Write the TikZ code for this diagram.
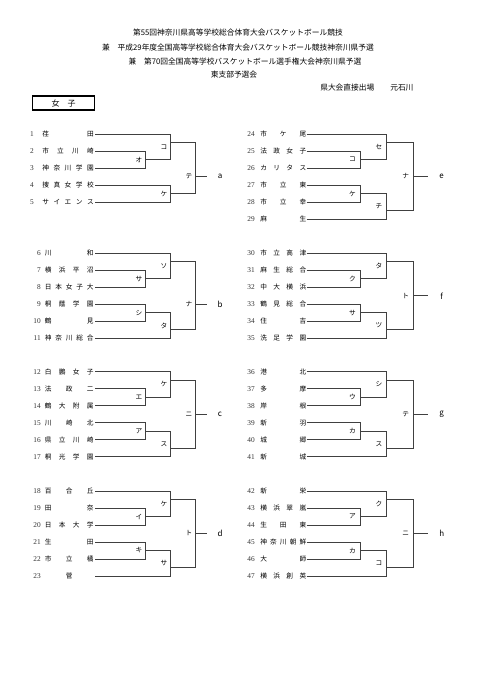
\documentclass[tikz,border=0pt]{standalone}
\usepackage{fontspec}
\setmainfont{Noto Sans CJK JP}
\newfontfamily\numfont{Liberation Serif}
\usetikzlibrary{positioning}

% match point: name, x of the bracket, y of its output, y of its tag, tag
\newcommand{\bout}[5]{%
  \coordinate (#1) at (#2,#3);
  \node[code] (#1l) at (#2-\lgap,#4) {#5};}

% one column of teams: key, number x, name x, name width, line x, first row y, list
\newcommand{\teamcol}[7]{%
  \foreach \no/\nm [count=\row] in {#7}{
    \node[num] (n\no) at (#2,#6+17*\row-17) {\no};
    \node[team] (s\no) at (#3,#6+17*\row-17) {\makebox[#4][s]{\nm}};
    \coordinate (#1\row) at (#5,#6+17*\row-17);
  }}

% six teams: key, first row y, four tags, final tag, final offset
\newcommand{\sixblock}[8]{%
  \bout{#1A}{\vA}{#2+25.5}{#2+25.5}{#3}
  \bout{#1B}{\vB}{#2+8.5}{#2+12.75}{#4}
  \bout{#1C}{\vA}{#2+59.5}{#2+59.5}{#5}
  \bout{#1D}{\vB}{#2+76.5}{#2+72.25}{#6}
  \bout{#1E}{\vC}{#2+#8}{#2+#8}{#7}
  \node[res] (#1R) at (\vR,#2+#8) {#1};
  \draw[br] (#12) -| (#1A) (#13) -| (#1A);
  \draw[br] (#11) -| (#1B) (#1A) -| (#1B);
  \draw[br] (#14) -| (#1C) (#15) -| (#1C);
  \draw[br] (#1C) -| (#1D) (#16) -| (#1D);
  \draw[br] (#1B) -| (#1E) (#1D) -| (#1E);
  \draw[fin] (#1E) -- (#1R.center);}

\begin{document}
\begin{tikzpicture}[x=0.75pt, y=-0.75pt,
    title/.style={font=\fontsize{5.8}{7}\selectfont, inner sep=0},
    num/.style={font=\numfont\fontsize{5.5}{6}\selectfont, anchor=east, inner sep=0, black!80},
    team/.style={font=\fontsize{5}{6}\selectfont, anchor=west, inner sep=0},
    code/.style={font=\fontsize{5}{6}\selectfont, anchor=east, inner sep=0},
    res/.style={font=\fontsize{6}{7}\selectfont, inner sep=0},
    br/.style={line width=0.6pt, black!75},
    fin/.style={br, shorten >=10pt},
    tag/.style={draw, line width=0.9pt, minimum width=47pt, minimum height=10.5pt, inner sep=0}]

  \fill[white] (0,0) rectangle (481,680);
  \useasboundingbox (0,0) rectangle (481,680);

  % heading
  \node[title] (h1) at (238,33) {第55回神奈川県高等学校総合体育大会バスケットボール競技};
  \node[title] (h2) at (238,48) {兼　平成29年度全国高等学校総合体育大会バスケットボール競技神奈川県予選};
  \node[title] (h3) at (245,62) {兼　第70回全国高等学校バスケットボール選手権大会神奈川県予選};
  \node[title] (h4) at (234,75) {東支部予選会};
  \node[title, anchor=west] (h5) at (320,88) {県大会直接出場};
  \node[title, anchor=west] (h6) at (390,88) {元石川};
  \node[tag, font=\fontsize{6}{7}\selectfont] (girls) at (63.5,103) {\makebox[18pt][s]{女 子}};

  % left side
  \def\vA{145}\def\vB{170}\def\vC{195}\def\vR{220}\def\lgap{2.5}
  \teamcol{a}{34}{42}{38.7pt}{95}{134}{1/荏 田, 2/市 立 川 崎, 3/神 奈 川 学 園, 4/捜 真 女 学 校, 5/サ イ エ ン ス}
  \bout{aA}{\vA}{159.5}{159.5}{オ}
  \bout{aB}{\vB}{142.5}{146.75}{コ}
  \bout{aC}{\vB}{193.5}{193.5}{ケ}
  \bout{aE}{\vC}{176.5}{176.5}{テ}
  \node[res] (aR) at (\vR,176.5) {a};
  \draw[br] (a2) -| (aA) (a3) -| (aA);
  \draw[br] (a1) -| (aB) (aA) -| (aB);
  \draw[br] (a4) -| (aC) (a5) -| (aC);
  \draw[br] (aB) -| (aE) (aC) -| (aE);
  \draw[fin] (aE) -- (aR.center);

  \teamcol{b}{41}{44.5}{36.5pt}{95}{253.3}{6/川 和, 7/横 浜 平 沼, 8/日 本 女 子 大, 9/桐 蔭 学 園, 10/鶴 見, 11/神 奈 川 総 合}
  \sixblock{b}{253.3}{サ}{ソ}{シ}{タ}{ナ}{51}
  \teamcol{c}{41}{44.5}{36.5pt}{95}{371.7}{12/白 鵬 女 子, 13/法 政 二, 14/鶴 大 附 属, 15/川 崎 北, 16/県 立 川 崎, 17/桐 光 学 園}
  \sixblock{c}{371.7}{エ}{ケ}{ア}{ス}{ニ}{42.5}
  \teamcol{d}{41}{44.5}{36.5pt}{95}{491}{18/百 合 丘, 19/田 奈, 20/日 本 大 学, 21/生 田, 22/市 立 橘, 23/\hfil 菅\hfil}
  \sixblock{d}{491}{イ}{ケ}{キ}{サ}{ト}{42.5}

  % right side
  \def\vA{360}\def\vB{386.5}\def\vC{413.3}\def\vR{441.7}\def\lgap{4}
  \teamcol{e}{255}{260}{34.5pt}{306.7}{134}{24/市 ケ 尾, 25/法 政 女 子, 26/カ リ タ ス, 27/市 立 東, 28/市 立 幸, 29/麻 生}
  \sixblock{e}{134}{コ}{セ}{ケ}{チ}{ナ}{42.5}
  \teamcol{f}{255}{260}{34.5pt}{306.7}{253.3}{30/市 立 高 津, 31/麻 生 総 合, 32/中 大 横 浜, 33/鶴 見 総 合, 34/住 吉, 35/洗 足 学 園}
  \sixblock{f}{253.3}{ク}{タ}{サ}{ツ}{ト}{42.5}
  \teamcol{g}{255}{260}{34.5pt}{306.7}{371.7}{36/港 北, 37/多 摩, 38/岸 根, 39/新 羽, 40/城 郷, 41/新 城}
  \sixblock{g}{371.7}{ウ}{シ}{カ}{ス}{テ}{42.5}
  \teamcol{h}{255}{260}{34.5pt}{306.7}{491}{42/新 栄, 43/横 浜 翠 嵐, 44/生 田 東, 45/神 奈 川 朝 鮮, 46/大 師, 47/横 浜 創 英}
  \sixblock{h}{491}{ア}{ク}{カ}{コ}{ニ}{42.5}
\end{tikzpicture}
\end{document}
